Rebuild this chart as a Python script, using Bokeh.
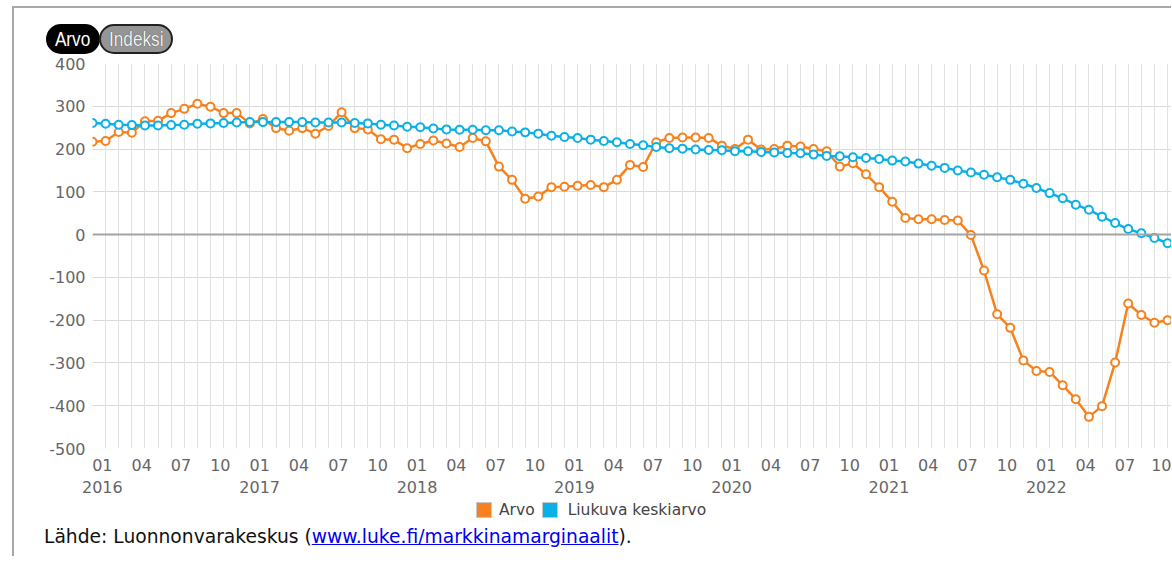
from bokeh.plotting import figure
from bokeh.models import (ColumnDataSource, Range1d, FixedTicker, LinearAxis, Grid,
                          Div, Span)
from bokeh.layouts import column
from bokeh.embed import file_html
from bokeh.resources import INLINE

# ---------------- data ----------------
years = [2016, 2017, 2018, 2019, 2020, 2021, 2022]
month_names = ["01", "02", "03", "04", "05", "06", "07", "08", "09", "10", "11", "12"]
periods = [(y, m) for y in years for m in month_names][:83]   # 2016-01 ... 2022-11

arvo = [217, 219, 240, 238, 265, 266, 284, 294, 306, 299, 284, 284,
        260, 270, 249, 243, 249, 236, 254, 286, 249, 246, 223, 222,
        202, 212, 220, 213, 205, 226, 218, 159, 128, 84, 89, 111,
        112, 114, 116, 111, 128, 163, 158, 216, 226, 227, 227, 226,
        208, 200, 222, 199, 200, 208, 206, 200, 195, 159, 167, 141,
        111, 77, 39, 36, 36, 34, 33, -1, -84, -186, -218, -294,
        -319, -321, -352, -385, -426, -401, -299, -161, -188, -206, -200]

liukuva = [261, 259, 257, 256, 255, 255, 256, 257, 259, 260, 261, 262,
           263, 263, 263, 263, 263, 262, 262, 262, 261, 260, 257, 255,
           252, 251, 248, 246, 245, 245, 244, 244, 241, 239, 236, 231,
           228, 226, 222, 219, 216, 212, 209, 205, 202, 201, 199, 198,
           197, 195, 195, 193, 192, 191, 190, 187, 184, 183, 181, 179,
           177, 173, 171, 166, 161, 156, 150, 145, 140, 134, 128, 119,
           109, 97, 85, 70, 58, 42, 27, 13, 3, -8, -20]

series_names = ["Arvo", "Liukuva keskiarvo"]
button_labels = ["Arvo", "Indeksi"]
y_ticks = [-500, -400, -300, -200, -100, 0, 100, 200, 300, 400]

# ---------------- styles ----------------
ORANGE = "#F5821F"
BLUE = "#0AB0E6"
AXIS_TXT = "#666666"
FONT = "DejaVu Sans"
X_END = 82.3
LABEL_SHIFT = 0.75   # label block sits a little right of its month line

xs = list(range(len(periods)))
src = ColumnDataSource(dict(x=xs, arvo=arvo, liukuva=liukuva))

p = figure(width=1157, height=445,
           x_range=Range1d(0, X_END), y_range=Range1d(y_ticks[0], y_ticks[-1]),
           x_axis_location=None,
           output_backend="svg", toolbar_location=None,
           min_border_left=78, min_border_right=0, min_border_top=8, min_border_bottom=48)
p.outline_line_color = None
p.background_fill_color = "white"
p.border_fill_color = "white"

# grids
for g in p.xgrid:
    g.visible = False
p.add_layout(Grid(dimension=0, ticker=FixedTicker(ticks=xs),
                  grid_line_color="#e2e2e2", grid_line_width=1))
p.ygrid.ticker = FixedTicker(ticks=y_ticks)
p.ygrid.grid_line_color = "#dadada"
p.ygrid.grid_line_width = 1
p.add_layout(Span(location=0, dimension="width", line_color="#a3a3a3", line_width=2))

# x axis (on a slightly shifted range so labels sit like the original's)
p.extra_x_ranges = {"labels": Range1d(-LABEL_SHIFT, X_END - LABEL_SHIFT)}
q_ticks = [i for i, (y, m) in enumerate(periods) if m in ("01", "04", "07", "10")]
xaxis = LinearAxis(x_range_name="labels", ticker=FixedTicker(ticks=q_ticks))
xaxis.major_label_overrides = {
    i: (periods[i][1] + "\n" + str(periods[i][0])) if periods[i][1] == "01" else periods[i][1]
    for i in q_ticks
}
xaxis.major_label_standoff = 7
xaxis.major_tick_out = 0
xaxis.major_tick_in = 0
xaxis.minor_tick_out = 0
xaxis.minor_tick_in = 0
xaxis.axis_line_color = None
xaxis.major_tick_line_color = None
xaxis.minor_tick_line_color = None
xaxis.major_label_text_color = AXIS_TXT
xaxis.major_label_text_font = FONT
xaxis.major_label_text_font_size = "16px"
p.add_layout(xaxis, "below")

# y axis
p.yaxis.ticker = FixedTicker(ticks=y_ticks)
p.yaxis.major_label_overrides = {v: str(v) for v in y_ticks}   # plain hyphen minus
p.yaxis.major_label_standoff = 7
p.yaxis.major_tick_out = 0
p.yaxis.major_tick_in = 0
p.yaxis.minor_tick_out = 0
p.yaxis.minor_tick_in = 0
p.yaxis.axis_line_color = None
p.yaxis.major_tick_line_color = None
p.yaxis.minor_tick_line_color = None
p.yaxis.major_label_text_color = AXIS_TXT
p.yaxis.major_label_text_font = FONT
p.yaxis.major_label_text_font_size = "16px"

# series
p.line("x", "arvo", source=src, line_color=ORANGE, line_width=2.5)
p.scatter("x", "arvo", source=src, size=8, fill_color="white", line_color=ORANGE, line_width=2)
p.line("x", "liukuva", source=src, line_color=BLUE, line_width=2.5)
p.scatter("x", "liukuva", source=src, size=8, fill_color="white", line_color=BLUE, line_width=2)

# ---------------- html parts ----------------
def pill(text, width, bg, fg, border, extra=""):
    return (f'<span style="display:inline-block;box-sizing:border-box;width:{width}px;height:30px;'
            f'border:2px solid {border};border-radius:15px;background:{bg};text-align:center;'
            f'line-height:26px;vertical-align:top;{extra}">'
            f'<span style="display:inline-block;transform:scaleX(0.82);margin:0 -12px;'
            f"font-family:'Liberation Sans',sans-serif;font-size:21px;color:{fg};"
            f'">{text}</span></span>')

buttons = Div(
    text=('<div style="padding-left:32px;padding-top:16px;white-space:nowrap">'
          + pill(button_labels[0], 54, "#000", "#fff", "#000")
          + pill(button_labels[1], 74, "#959595", "#f2f2f2", "#222",
                 "margin-left:-1px;text-shadow:0 0 1px #333;")
          + '</div>'),
    width=400, height=47, margin=0)

sq = "display:inline-block;width:16px;height:16px;border:1px solid #c8c8c8;vertical-align:middle;"
lab = f"display:inline-block;vertical-align:middle;font-family:'{FONT}';font-size:15.5px;color:#444;"
legend_html = ('<div style="padding-left:462px;padding-top:0px;height:18px;line-height:18px;white-space:nowrap">'
               f'<span style="{sq}background:{ORANGE}"></span>'
               f'<span style="{lab}margin-left:7px">{series_names[0]}</span>'
               f'<span style="{sq}background:{BLUE};margin-left:7px"></span>'
               f'<span style="{lab}margin-left:10px">{series_names[1]}</span></div>')

source_html = ("<div style=\"padding-left:30px;padding-top:8px;font-family:'DejaVu Sans';"
               "font-size:18.7px;line-height:22px;color:#111;white-space:nowrap\">L\u00e4hde: Luonnonvarakeskus ("
               "<a href='http://www.luke.fi/markkinamarginaalit' style='color:#0000ee;text-decoration:underline'>"
               "www.luke.fi/markkinamarginaalit</a>).</div>")

footer = Div(text=legend_html + source_html, width=900, height=56, margin=0)

layout = column(buttons, p, footer,
                styles={"border-left": "2px solid #a8a8a8", "border-top": "2px solid #a8a8a8"},
                margin=(6, 0, 0, 12))

open("out.html", "w").write(file_html(layout, INLINE))
